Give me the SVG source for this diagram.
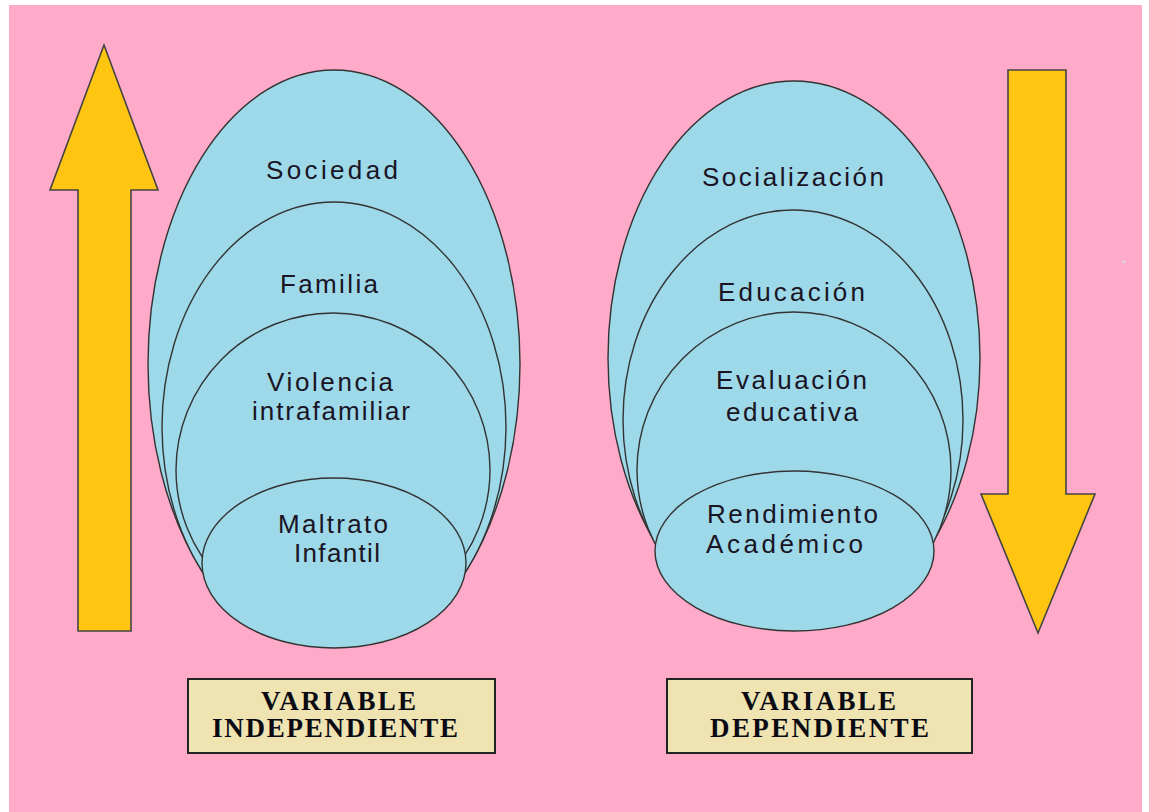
<svg xmlns="http://www.w3.org/2000/svg" width="1149" height="812" viewBox="0 0 1149 812">
<style>
.bg{fill:#FFAAC8}
.ov{fill:#9DD9E9;stroke:#333;stroke-width:1.4}
.arr{fill:#FFC510;stroke:#444;stroke-width:1.6;stroke-linejoin:miter}
.box{fill:#EFE3B1;stroke:#222;stroke-width:2}
.t{font-family:"Liberation Sans",Arial,sans-serif;font-size:26px;fill:#1a1424;lengthAdjust:spacing}
.b{font-family:"Liberation Serif","Times New Roman",serif;font-size:27px;font-weight:bold;fill:#0a0a14}
</style>
<defs>
<clipPath id="clipL"><rect x="100" y="0" width="480" height="600"/></clipPath>
<clipPath id="clipR"><rect x="560" y="0" width="480" height="580"/></clipPath>
</defs>
<rect x="0" y="0" width="1149" height="812" fill="#FFFFFF"/>
<rect class="bg" x="9" y="5" width="1133" height="807"/>
<rect x="1122" y="261" width="3" height="2" fill="#D2DCEA"/>

<g id="arrows">
<polygon id="arrow-up" class="arr" points="104,45 158,190 131,190 131,631 78,631 78,190 50,190"/>
<polygon id="arrow-down" class="arr" points="1008,70 1066,70 1066,494 1095,494 1038,633 981,494 1008,494"/>
</g>

<g id="sociedad">
<ellipse class="ov" cx="334" cy="364" rx="186" ry="294" clip-path="url(#clipL)"/>
<text class="t" x="266" y="179" textLength="132" lengthAdjust="spacing">Sociedad</text>
</g>
<g id="familia">
<ellipse class="ov" cx="334" cy="427" rx="172" ry="225" clip-path="url(#clipL)"/>
<text class="t" x="280" y="293" textLength="98" lengthAdjust="spacing">Familia</text>
</g>
<g id="violencia">
<ellipse class="ov" cx="333" cy="470" rx="157" ry="157" clip-path="url(#clipL)"/>
<text class="t" x="267" y="391" textLength="126" lengthAdjust="spacing">Violencia</text>
<text class="t" x="252" y="420" textLength="158" lengthAdjust="spacing">intrafamiliar</text>
</g>
<g id="maltrato">
<ellipse class="ov" cx="334" cy="563" rx="132" ry="85"/>
<text class="t" x="278" y="533" textLength="110" lengthAdjust="spacing">Maltrato</text>
<text class="t" x="294" y="562" textLength="86" lengthAdjust="spacing">Infantil</text>
</g>

<g id="socializacion">
<ellipse class="ov" cx="794" cy="358" rx="186" ry="277" clip-path="url(#clipR)"/>
<text class="t" x="702" y="186" textLength="182" lengthAdjust="spacing">Socialización</text>
</g>
<g id="educacion">
<ellipse class="ov" cx="793" cy="420" rx="170" ry="210" clip-path="url(#clipR)"/>
<text class="t" x="718" y="301" textLength="147" lengthAdjust="spacing">Educación</text>
</g>
<g id="evaluacion">
<ellipse class="ov" cx="794" cy="470" rx="157" ry="158" clip-path="url(#clipR)"/>
<text class="t" x="716" y="389" textLength="151" lengthAdjust="spacing">Evaluación</text>
<text class="t" x="726" y="421" textLength="132" lengthAdjust="spacing">educativa</text>
</g>
<g id="rendimiento">
<ellipse class="ov" cx="794.5" cy="551" rx="139.5" ry="80"/>
<text class="t" x="707" y="523" textLength="171" lengthAdjust="spacing">Rendimiento</text>
<text class="t" x="706" y="553" textLength="157" lengthAdjust="spacing">Académico</text>
</g>

<g id="label-independiente">
<rect class="box" x="188" y="679" width="307" height="74"/>
<text class="b" x="261" y="710" textLength="155" lengthAdjust="spacing">VARIABLE</text>
<text class="b" x="212" y="737" textLength="246" lengthAdjust="spacing">INDEPENDIENTE</text>
</g>
<g id="label-dependiente">
<rect class="box" x="667" y="679" width="305" height="74"/>
<text class="b" x="741" y="710" textLength="155" lengthAdjust="spacing">VARIABLE</text>
<text class="b" x="710" y="737" textLength="219" lengthAdjust="spacing">DEPENDIENTE</text>
</g>
</svg>
